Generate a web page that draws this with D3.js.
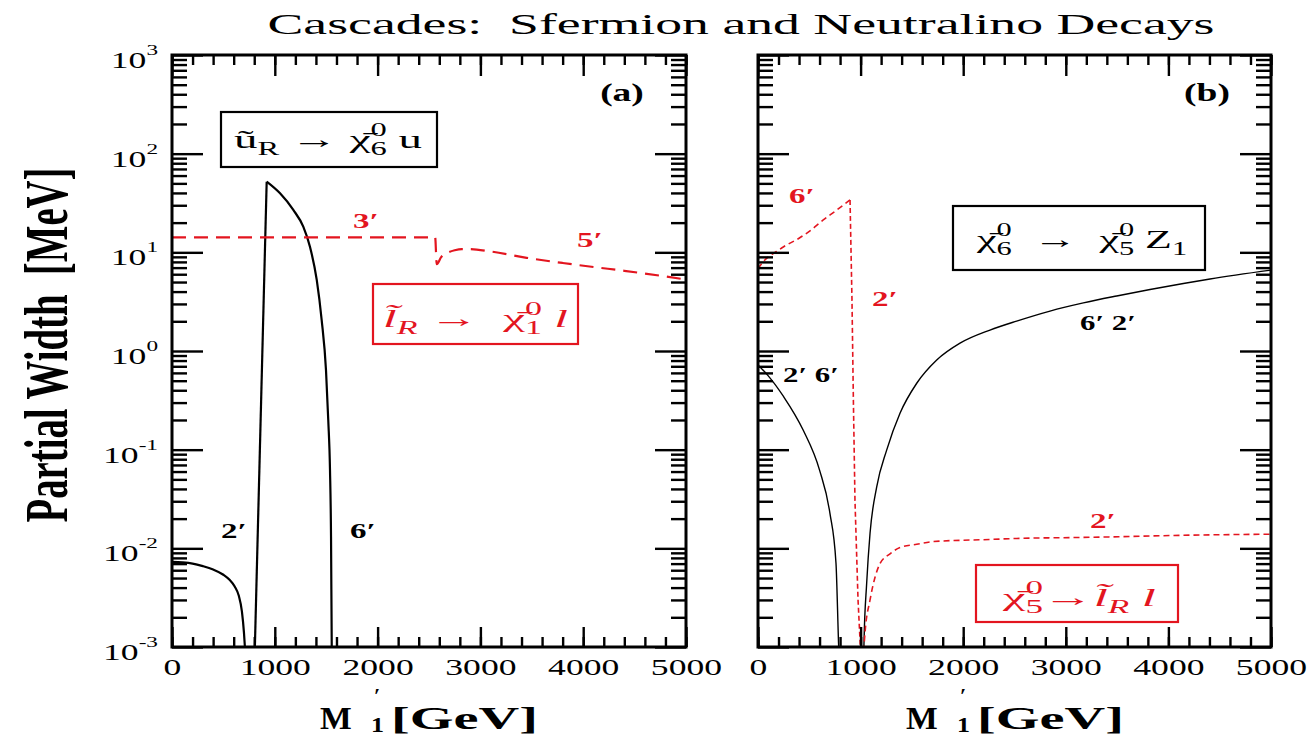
<!DOCTYPE html>
<html>
<head>
<meta charset="utf-8">
<script src="https://cdn.jsdelivr.net/npm/d3@7"></script>
<style>
  body { margin: 0; background: #fff; }
  svg { display: block; }
</style>
</head>
<body>
<div class="chart"></div>
<script>
// Data (M1' in GeV, partial width in MeV)

// panel (a): u_R -> chi6 u  (black)
const uRLowMass   = [0, 100, 200, 300, 400, 500, 560, 610, 650, 680, 700, 712, 725];
const uRLowWidth  = [0.0073, 0.0072, 0.0070, 0.0066, 0.0061, 0.0054, 0.0048, 0.0041, 0.0033, 0.0023, 0.0014, 0.0009, 0.0005];
const uRRiseMass  = [805, 921];
const uRRiseWidth = [0.0009, 52];
const uRFallMass  = [921, 1051, 1180, 1277, 1342, 1408, 1456, 1498, 1520, 1537, 1547, 1554, 1558];
const uRFallWidth = [52, 39.6, 26.9, 18.2, 11.4, 5.25, 2.06, 0.64, 0.20, 0.062, 0.013, 0.001, 0.0005];

// panel (a): l_R -> chi1 l  (red dashed)
const lRMass  = [0, 500, 1000, 1500, 2000, 2560, 2575, 2620, 2680, 2750, 2820, 2900, 3100, 3450, 3800, 4100, 4400, 4800, 5000];
const lRWidth = [14.2, 14.2, 14.2, 14.2, 14.2, 14.2, 7.6, 9.0, 9.9, 10.5, 10.8, 10.8, 10.2, 8.8, 7.8, 7.1, 6.5, 5.7, 5.3];

// panel (b): chi6 -> chi5 Z1  (black)
const z1LowMass   = [0, 100, 250, 440, 600, 700, 760, 785, 800];
const z1LowWidth  = [0.72, 0.56, 0.344, 0.158, 0.062, 0.023, 0.0071, 0.0011, 0.0004];
const z1HighMass  = [1028, 1033, 1059, 1092, 1157, 1254, 1384, 1547, 1742, 1969, 2261, 2521, 2846, 3171, 3496, 3821, 4146, 4406, 5000];
const z1HighWidth = [0.0006, 0.0011, 0.0044, 0.0142, 0.042, 0.099, 0.234, 0.471, 0.81, 1.2, 1.63, 2.01, 2.54, 3.07, 3.61, 4.2, 4.83, 5.37, 6.6];

// panel (b): chi5 -> l_R l  (red dashed)
const chi5RiseMass  = [0, 50, 100, 180, 250, 400, 500, 636, 750, 897];
const chi5RiseWidth = [6.8, 8.0, 9.0, 10.2, 11.4, 13.9, 16.3, 21.3, 26, 34];
const chi5DropMass  = [897, 916, 930, 945, 975, 994, 1000];
const chi5DropWidth = [34, 3.3, 0.3, 0.031, 0.003, 0.0012, 0.0008];
const chi5LowMass   = [1030, 1043, 1092, 1189, 1287, 1384, 1547, 1706, 2261, 2521, 3171, 4406, 5000];
const chi5LowWidth  = [0.0009, 0.0014, 0.0030, 0.0070, 0.0088, 0.0102, 0.0110, 0.0117, 0.0123, 0.0126, 0.0129, 0.0137, 0.0139];

// Ticks
const massTicks = [0, 1000, 2000, 3000, 4000, 5000];
const massMinorTicks = [0, 200, 400, 600, 800, 1000, 1200, 1400, 1600, 1800, 2000, 2200, 2400, 2600, 2800,
  3000, 3200, 3400, 3600, 3800, 4000, 4200, 4400, 4600, 4800, 5000];
const widthDecades = [1e-3, 1e-2, 1e-1, 1e0, 1e1, 1e2, 1e3];
const decadeExponents = ['-3', '-2', '-1', '0', '1', '2', '3'];

const titleText = 'Cascades:  Sfermion and Neutralino Decays';
const yLabelText = 'Partial Width  [MeV]';

// Layout
const W = 1309, H = 735;
const TOP = 55, BOTTOM = 647;
const SERIF = '"Liberation Serif", "Times New Roman", serif';
const SX = 1.55;           // the picture is stretched horizontally
const RED = '#e3151f';

const svg = d3.select('.chart')
  .append('svg')
  .attr('width', W)
  .attr('height', H);

svg.append('rect').attr('width', W).attr('height', H).attr('fill', '#fff');

// small helper for horizontally stretched text
function label(parent, str, x, y, opts = {}) {
  const t = parent.append('text')
    .attr('font-family', SERIF)
    .attr('font-size', opts.size || 22)
    .attr('font-weight', opts.weight || null)
    .attr('font-style', opts.style || null)
    .attr('fill', opts.color || '#000')
    .attr('text-anchor', opts.anchor || 'middle')
    .style('white-space', 'pre')
    .text(str);
  let sx = opts.sx || SX;
  if (opts.width) sx = opts.width / t.node().getBBox().width;
  t.attr('transform', `translate(${x},${y}) scale(${sx},1)`);
  return t;
}

// math-ish annotation: tokens with sub/superscripts, fitted to a width
function mathLabel(parent, tokens, x0, baseline, width, color) {
  const t = parent.append('text')
    .attr('font-family', SERIF)
    .attr('font-size', 26)
    .attr('fill', color)
    .style('white-space', 'pre');
  let shift = 0;
  tokens.forEach(tok => {
    if (tok.sup !== undefined) {
      t.append('tspan').attr('font-size', 18).attr('dy', -12 - shift).text(tok.sup);
      shift = -12;
      if (tok.sub !== undefined) {
        t.append('tspan').attr('font-size', 18).attr('dx', -9).attr('dy', 7 - shift).text(tok.sub);
        shift = 7;
      }
    } else if (tok.sub !== undefined) {
      t.append('tspan').attr('font-size', 18).attr('font-style', tok.italic ? 'italic' : null)
        .attr('dy', 7 - shift).text(tok.sub);
      shift = 7;
    } else {
      t.append('tspan').attr('font-style', tok.italic ? 'italic' : null)
        .attr('dy', -shift).text(tok.t);
      shift = 0;
    }
  });
  const w0 = t.node().getBBox().width;
  t.attr('transform', `translate(${x0},${baseline}) scale(${width / w0},1)`);
}

function box(parent, x0, y0, x1, y1, color) {
  parent.append('rect')
    .attr('x', x0).attr('y', y0)
    .attr('width', x1 - x0).attr('height', y1 - y0)
    .attr('fill', '#fff').attr('stroke', color).attr('stroke-width', 2.2);
}

// Title
svg.append('text')
  .attr('x', 741).attr('y', 34)
  .attr('text-anchor', 'middle')
  .attr('font-family', SERIF)
  .attr('font-size', 30)
  .attr('textLength', 947)
  .attr('lengthAdjust', 'spacingAndGlyphs')
  .style('white-space', 'pre')
  .text(titleText);

// Y axis title
svg.append('text')
  .attr('transform', 'translate(67,345) scale(1.64,1) rotate(-90)')
  .attr('text-anchor', 'middle')
  .attr('font-family', SERIF)
  .attr('font-weight', 'bold')
  .attr('font-size', 38)
  .attr('textLength', 355)
  .attr('lengthAdjust', 'spacingAndGlyphs')
  .style('white-space', 'pre')
  .text(yLabelText);

function drawPanel(left, right, tag, curves, yLabels) {
  const x = d3.scaleLinear().domain([0, 5000]).range([left, right]);
  const y = d3.scaleLog().domain([1e-3, 1e3]).range([BOTTOM, TOP]);
  const g = svg.append('g');

  const clipId = 'clip-' + tag;
  svg.append('clipPath').attr('id', clipId)
    .append('rect')
    .attr('x', left).attr('y', TOP)
    .attr('width', right - left).attr('height', BOTTOM - TOP);

  // Curves
  curves.forEach(c => {
    const line = d3.line()
      .x(d => x(d[0]))
      .y(d => y(d[1]))
      .curve(c.linear ? d3.curveLinear : d3.curveMonotoneX);
    g.append('path')
      .datum(d3.zip(c.mass, c.width))
      .attr('clip-path', `url(#${clipId})`)
      .attr('fill', 'none')
      .attr('stroke', c.color)
      .attr('stroke-width', c.lw)
      .attr('stroke-dasharray', c.dash || null)
      .attr('stroke-linejoin', 'round')
      .attr('d', line);
  });

  // minor y ticks: 2..9 times each decade
  const yMinor = [];
  widthDecades.slice(0, -1).forEach(d => { for (let k = 2; k <= 9; k++) yMinor.push(d * k); });

  // Axes on all four sides, ticks pointing inward
  const axes = [
    d3.axisBottom(x).tickValues(massMinorTicks).tickSize(-10).tickFormat(''),
    d3.axisTop(x).tickValues(massMinorTicks).tickSize(-10).tickFormat(''),
    d3.axisTop(x).tickValues(massTicks).tickSize(-21).tickFormat(''),
    d3.axisLeft(y).tickValues(yMinor).tickSize(-15).tickFormat(''),
    d3.axisLeft(y).tickValues(widthDecades).tickSize(-31).tickFormat(''),
    d3.axisRight(y).tickValues(yMinor).tickSize(-15).tickFormat(''),
    d3.axisRight(y).tickValues(widthDecades).tickSize(-31).tickFormat('')
  ];
  const shifts = [`0,${BOTTOM}`, `0,${TOP}`, `0,${TOP}`, `${left},0`, `${left},0`, `${right},0`, `${right},0`];
  axes.forEach((a, i) => {
    const ax = g.append('g').attr('transform', `translate(${shifts[i]})`).call(a);
    ax.select('.domain').remove();
    ax.selectAll('line').attr('stroke', '#000').attr('stroke-width', 2.4);
  });

  // bottom major ticks with labels
  const xAxis = g.append('g')
    .attr('transform', `translate(0,${BOTTOM})`)
    .call(d3.axisBottom(x).tickValues(massTicks).tickSize(-20).tickPadding(12).tickFormat(d3.format('d')));
  xAxis.select('.domain').remove();
  xAxis.selectAll('line').attr('stroke', '#000').attr('stroke-width', 2.4);
  xAxis.attr('font-family', SERIF).attr('font-size', 23);
  xAxis.selectAll('text').attr('fill', '#000').attr('transform', `scale(${SX},1)`);

  // Y tick labels 10^n
  if (yLabels) {
    const yt = g.selectAll('.ytick-label')
      .data(widthDecades)
      .join('text')
      .attr('class', 'ytick-label')
      .attr('font-family', SERIF)
      .attr('font-size', 23)
      .attr('text-anchor', 'end')
      .attr('transform', d => `translate(158,${y(d) + 13}) scale(1.55,1)`);
    yt.append('tspan').text('10');
    yt.append('tspan').attr('font-size', 15).attr('dy', -13).text((d, i) => decadeExponents[i]);
  }

  // Frame
  g.append('rect')
    .attr('x', left).attr('y', TOP)
    .attr('width', right - left).attr('height', BOTTOM - TOP)
    .attr('fill', 'none').attr('stroke', '#000').attr('stroke-width', 3);

  // X axis title  M'_1 [GeV]
  const dx = left - 172;
  label(g, 'M', 320 + dx, 729, { size: 32, weight: 'bold', anchor: 'start', sx: 1.05 });
  label(g, '\u2032', 374 + dx, 703, { size: 22, anchor: 'start', sx: 1.3 });
  label(g, '1', 371 + dx, 732, { size: 20, weight: 'bold', anchor: 'start', sx: 1.3 });
  label(g, '[GeV]', 391 + dx, 729, { size: 32, weight: 'bold', anchor: 'start', width: 147 });

  return g;
}

// Panel (a)
const gA = drawPanel(172, 686, 'a', [
  { mass: uRLowMass, width: uRLowWidth, color: '#000', lw: 2.2 },
  { mass: uRRiseMass, width: uRRiseWidth, color: '#000', lw: 2.2, linear: true },
  { mass: uRFallMass, width: uRFallWidth, color: '#000', lw: 2.2 },
  { mass: lRMass, width: lRWidth, color: RED, lw: 2.2, dash: '14,8' }
], true);

box(gA, 221, 112, 437, 167, '#000');
mathLabel(gA, [{ t: '\u0169' }, { sub: 'R' }, { t: ' \u2192 ' }, { t: '\u03C7\u0304' }, { sup: '0', sub: '6' }, { t: ' u' }],
  234, 148, 188, '#000');
box(gA, 373, 284, 578, 344, RED);
mathLabel(gA, [{ t: 'l\u0303', italic: true }, { sub: 'R', italic: true }, { t: ' \u2192  ' }, { t: '\u03C7\u0304' },
  { sup: '0', sub: '1' }, { t: ' l', italic: true }], 383, 327, 185, RED);

label(gA, '(a)', 622, 101, { size: 25, weight: 'bold', sx: 1.5 });
label(gA, '3\u2032', 366, 228, { size: 22, weight: 'bold', color: RED, sx: 1.5 });
label(gA, '5\u2032', 590, 247, { size: 22, weight: 'bold', color: RED, sx: 1.5 });
label(gA, '2\u2032', 234, 538, { size: 22, weight: 'bold', sx: 1.5 });
label(gA, '6\u2032', 363, 538, { size: 22, weight: 'bold', sx: 1.5 });

// Panel (b)
const gB = drawPanel(758, 1271, 'b', [
  { mass: z1LowMass, width: z1LowWidth, color: '#000', lw: 1.4 },
  { mass: z1HighMass, width: z1HighWidth, color: '#000', lw: 1.4 },
  { mass: chi5RiseMass, width: chi5RiseWidth, color: RED, lw: 1.6, dash: '6,4' },
  { mass: chi5DropMass, width: chi5DropWidth, color: RED, lw: 1.6, dash: '5,3', linear: true },
  { mass: chi5LowMass, width: chi5LowWidth, color: RED, lw: 1.6, dash: '6,4' }
], false);

box(gB, 953, 206, 1205, 270, '#000');
mathLabel(gB, [{ t: '\u03C7\u0304' }, { sup: '0', sub: '6' }, { t: '  \u2192  ' }, { t: '\u03C7\u0304' }, { sup: '0', sub: '5' },
  { t: ' Z' }, { sub: '1' }], 977, 248, 212, '#000');
box(gB, 976, 565, 1178, 622, RED);
mathLabel(gB, [{ t: '\u03C7\u0304' }, { sup: '0', sub: '5' }, { t: '\u2192' }, { t: 'l\u0303', italic: true },
  { sub: 'R', italic: true }, { t: ' l', italic: true }], 1003, 606, 155, RED);

label(gB, '(b)', 1207, 101, { size: 25, weight: 'bold', sx: 1.5 });
label(gB, '6\u2032', 802, 203, { size: 22, weight: 'bold', color: RED, sx: 1.5 });
label(gB, '2\u2032', 885, 306, { size: 22, weight: 'bold', color: RED, sx: 1.5 });
label(gB, '6\u2032 2\u2032', 1108, 330, { size: 22, weight: 'bold', sx: 1.4 });
label(gB, '2\u2032 6\u2032', 811, 382, { size: 22, weight: 'bold', sx: 1.4 });
label(gB, '2\u2032', 1103, 528, { size: 22, weight: 'bold', color: RED, sx: 1.5 });
</script>
</body>
</html>
